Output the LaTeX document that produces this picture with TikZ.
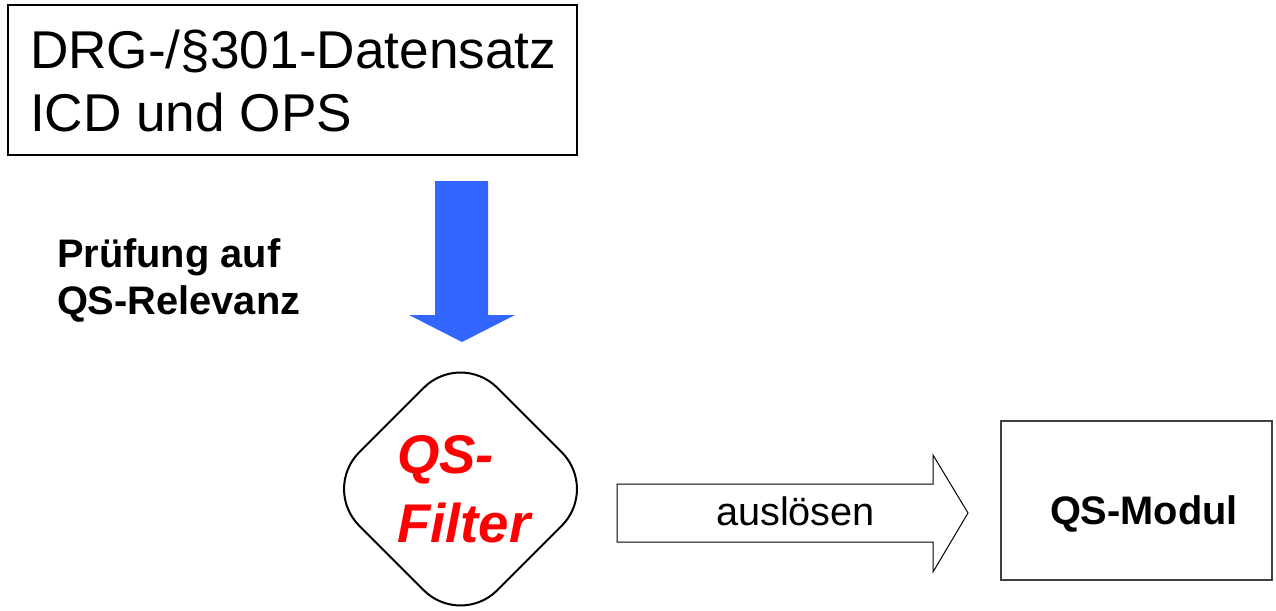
\documentclass[tikz,border=0pt]{standalone}
\usepackage{fontspec}
\setmainfont{Liberation Sans}
\definecolor{arrowblue}{RGB}{51,102,255}
\definecolor{filterred}{RGB}{255,0,0}
\tikzset{
  plain/.style={inner sep=0pt, outer sep=0pt, anchor=base west},
  bigtxt/.style={plain, font=\fontsize{53.2}{62}\selectfont},
  midtxt/.style={plain, font=\fontsize{39.7}{48}\selectfont},
  boldtxt/.style={plain, font=\fontsize{39.8}{48}\selectfont\bfseries},
  filtertxt/.style={plain, text=filterred, font=\fontsize{54.5}{64}\selectfont\bfseries\itshape},
}
\begin{document}
\begin{tikzpicture}[x=1pt,y=-1pt]
\useasboundingbox (0,0) rectangle (1276,610);
% source box
\draw[line width=2.6pt] (8,5) rectangle (577,155);
\node[bigtxt] (l1) at (30,69) {DRG-/§301-Datensatz};
\node[bigtxt] (l2) at (30,131) {ICD und OPS};
% blue arrow
\fill[arrowblue] (435,181) -- (488,181) -- (488,315) -- (515,315) -- (462,342) -- (409,315) -- (435,315) -- cycle;
% label
\node[boldtxt] (p1) at (57,267) {Prüfung auf};
\node[boldtxt] (p2) at (57,314) {QS-Relevanz};
% filter diamond
\draw[line width=2pt, rounded corners=52pt] (460.5,351) -- (598.5,489) -- (460.5,627) -- (322.5,489) -- cycle;
\node[filtertxt] (f1) at (397,473) {QS-};
\node[filtertxt] (f2) at (397,542) {Filter};
% outline arrow
\draw[line width=1pt, line join=miter] (617,484) -- (933,484) -- (933,455) -- (968,513) -- (933,572) -- (933,542) -- (617,542) -- cycle;
\node[midtxt] (ausl) at (716,525) {auslösen};
% module box
\draw[line width=1.5pt, black!75] (1001,421) rectangle (1272,580);
\node[boldtxt] (mod) at (1050,524) {QS-Modul};
\end{tikzpicture}
\end{document}
